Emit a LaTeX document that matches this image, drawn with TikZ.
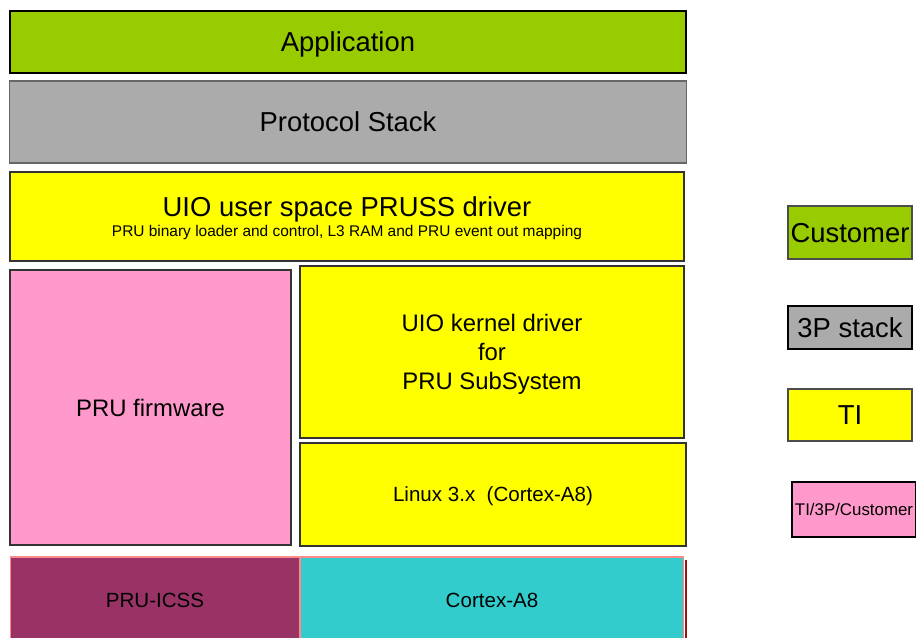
\documentclass[tikz,border=0pt]{standalone}
\usepackage{fontspec}
\setmainfont{Liberation Sans}
\usepackage{xcolor}
\usetikzlibrary{positioning}
\definecolor{custgreen}{HTML}{99CC00}
\definecolor{stackgray}{HTML}{ABABAB}
\definecolor{tiyellow}{HTML}{FFFF00}
\definecolor{mixpink}{HTML}{FF99CC}
\definecolor{pruplum}{HTML}{993366}
\definecolor{armcyan}{HTML}{33CCCC}
\definecolor{edgepink}{HTML}{FF8A8A}
\definecolor{edgered}{HTML}{A01010}
\newcommand{\sizeL}{\fontsize{15.6}{18}\selectfont}
\newcommand{\sizeM}{\fontsize{13.6}{16.4}\selectfont}
\newcommand{\sizeS}{\fontsize{11.7}{14}\selectfont}
\newcommand{\sizeXS}{\fontsize{9.6}{11.5}\selectfont}
\newcommand{\sizeT}{\fontsize{8.8}{10.5}\selectfont}

\begin{document}
\begin{tikzpicture}[x=0.02cm, y=-0.02cm, node distance=0.16cm]
        \tikzset{layer/.style={draw=black!80, line width=0.9pt, inner sep=0pt, outer sep=0pt, align=center, text depth=0pt}}
        \clip (0,0) rectangle (916,637);
        \fill[white] (0,0) rectangle (916,637);

        % software stack
        \node[layer,fill=custgreen,draw=black,font=\sizeL,minimum width=13.52cm,minimum height=1.24cm] (app) at (348,42) {Application};
        \node[layer,fill=stackgray,draw=black!60,font=\sizeL,minimum width=13.54cm,minimum height=1.64cm] (proto) [below = 0.16cm of app] {Protocol Stack};
        \node[layer,fill=tiyellow,font=\sizeL,minimum width=13.48cm,minimum height=1.78cm] (uiousr) at (347,216.5) {UIO user space PRUSS driver\\[-6.7pt]\sizeT PRU binary loader and control, L3 RAM and PRU event out mapping};

        \node[layer,fill=mixpink,font=\sizeM,minimum width=5.62cm,minimum height=5.5cm] (prufw) at (150.5,407.5) {PRU firmware};
        \node[layer,fill=tiyellow,font=\sizeM,minimum width=7.68cm,minimum height=3.44cm] (uiokern) at (492,352) {UIO kernel driver\\for\\PRU SubSystem};
        \node[layer,fill=tiyellow,font=\sizeS,minimum width=7.72cm,minimum height=2.06cm] (linux) at (493,494.5) {Linux 3.x\ \ (Cortex-A8)};

        % hardware
        \node[layer,fill=pruplum,draw=edgepink,line width=0.6pt,minimum width=5.8cm,minimum height=1.86cm] (pruss) at (155,603.5) {};
        \node[layer,fill=armcyan,draw=edgepink,line width=0.6pt,minimum width=7.68cm,minimum height=1.86cm] (cortex) at (492,603.5) {};
        \node[font=\sizeS,text depth=0pt] at (155,600) {PRU-ICSS};
        \node[font=\sizeS,text depth=0pt] at (492,600) {Cortex-A8};
        \draw[edgered,line width=1.3pt] ([xshift=0.04cm,yshift=-0.06cm]cortex.north east) -- ([xshift=0.04cm]cortex.south east);

        % legend
        \node[layer,fill=custgreen,draw=black!70,font=\sizeL,minimum width=2.48cm,minimum height=1.06cm] (legcust) at (850,232.5) {Customer};
        \node[layer,fill=stackgray,draw=black,font=\sizeL,minimum width=2.48cm,minimum height=0.86cm] (leg3p) at (850,327.5) {3P stack};
        \node[layer,fill=tiyellow,draw=black!70,font=\sizeL,minimum width=2.48cm,minimum height=1.04cm] (legti) at (850,415) {TI};
        \node[layer,fill=mixpink,draw=black,line width=1.1pt,font=\sizeXS,minimum width=2.48cm,minimum height=1.1cm] (legmix) at (854,509.5) {TI/3P/Customer};

    \end{tikzpicture}
\end{document}
